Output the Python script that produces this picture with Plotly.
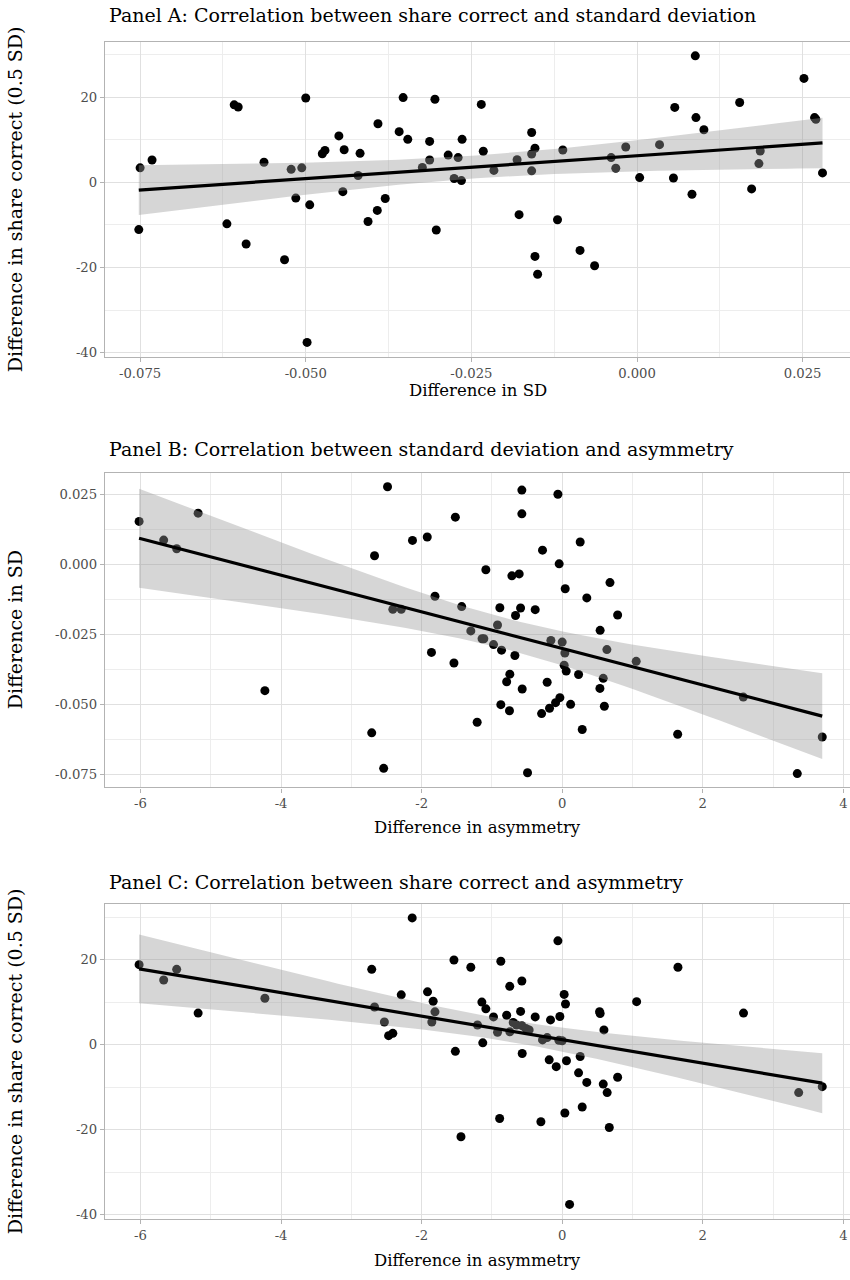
import numpy as np
import plotly.graph_objects as go

# ---------------- data ----------------
# Panel A: x = difference in SD, y = difference in share correct
a_sd = [-0.0750, -0.0732, -0.0752, -0.0608, -0.0602, -0.0500, -0.0563, -0.0522, -0.0506, -0.0515,
        -0.0494, -0.0619, -0.0590, -0.0532, -0.0498, -0.0450, -0.0475, -0.0471, -0.0442, -0.0444,
        -0.0418, -0.0421,
        -0.0406, -0.0392, -0.0380, -0.0391, -0.0353, -0.0359, -0.0346, -0.0324, -0.0313, -0.0313,
        -0.0305, -0.0303, -0.0285, -0.0270, -0.0264, -0.0276, -0.0265, -0.0235, -0.0232, -0.0216,
        -0.0181, -0.0178, -0.0159, -0.0154, -0.0159, -0.0159, -0.0154, -0.0150, -0.0120, -0.0112,
        -0.0086, -0.0064,
        -0.0039, -0.0032, -0.0017, 0.0004, 0.0034, 0.0055, 0.0057, 0.0088, 0.0089, 0.0101,
        0.0083, 0.0155, 0.0173, 0.0186, 0.0184, 0.0252, 0.0268, 0.0270, 0.0280]
a_share = [3.4, 5.25, -11.1, 18.2, 17.7, 19.8, 4.7, 3.05, 3.4, -3.7,
           -5.3, -9.75, -14.5, -18.2, -37.6, 10.9, 6.7, 7.5, 7.65, -2.2,
           6.8, 1.6,
           -9.2, -6.6, -3.8, 13.75, 19.9, 11.9, 10.1, 3.5, 9.6, 5.25,
           19.5, -11.2, 6.4, 5.8, 10.1, 0.9, 0.4, 18.3, 7.3, 2.8,
           5.3, -7.6, 11.7, 8.0, 6.65, 2.7, -17.4, -21.6, -8.8, 7.6,
           -16.0, -19.6,
           5.8, 3.3, 8.3, 1.1, 8.85, 1.0, 17.6, 29.7, 15.2, 12.35,
           -2.8, 18.75, -1.55, 7.35, 4.4, 24.4, 15.2, 14.8, 2.2]

# Panel B: x = difference in asymmetry, y = difference in SD
b_asym = [-6.02, -5.67, -5.485, -5.18, -4.23,
          -2.485, -2.67, -2.71, -2.54, -2.41, -2.29, -2.13, -1.92, -1.81, -1.86,
          -1.52, -1.54, -1.43, -1.30, -1.21, -1.14, -1.115, -1.086, -0.977, -0.92,
          -0.887, -0.863, -0.745, -0.79, -0.873, -0.75, -0.716, -0.612, -0.664, -0.592,
          -0.673, -0.574, -0.574, -0.569, -0.493, -0.384, -0.28, -0.293, -0.18, -0.094,
          -0.033, -0.214, -0.161, -0.061, -0.043, 0.0, 0.043, 0.038, 0.028, 0.057,
          0.12, 0.233, 0.256, 0.285, 0.35, 0.54, 0.537, 0.60, 0.584, 0.636, 0.68,
          0.789, 1.053, 1.643, 2.577, 3.345, 3.70]
b_sd = [0.0155, 0.0088, 0.0057, 0.01845, -0.0451,
        0.0279, 0.0032, -0.0602, -0.0729, -0.0160, -0.0160, 0.0087, 0.0099, -0.0113, -0.0314,
        0.0170, -0.0352, -0.0150, -0.0237, -0.0564, -0.0265, -0.0265, -0.0018, -0.0286, -0.0216,
        -0.0154, -0.0306, -0.0392, -0.0419, -0.0501, -0.0523, -0.0040, -0.0033, -0.0182, -0.0155,
        -0.0325, 0.0267, 0.0182, -0.0445, -0.0745, -0.0161, 0.0052, -0.0533, -0.0514, -0.0494,
        -0.0476, -0.0421, -0.0271, 0.0252, 0.0003, -0.0277, -0.0086, -0.0316, -0.0360, -0.0381,
        -0.0500, -0.0393, 0.0081, -0.0590, -0.0119, -0.0235, -0.0443, -0.0507, -0.0407, -0.0304, -0.0064,
        -0.0180, -0.0346, -0.0607, -0.0474, -0.0748, -0.0617]

# Panel C: x = difference in asymmetry, y = difference in share correct
c_asym = [-6.02, -5.67, -5.485, -5.18, -4.23,
          -2.134, -2.71, -2.67, -2.53, -2.47, -2.41, -2.29, -1.916, -1.836, -1.81,
          -1.855, -1.54, -1.52, -1.44, -1.30, -1.205, -1.143, -1.086, -1.13, -0.977,
          -0.92, -0.89, -0.873, -0.79, -0.746, -0.745, -0.697, -0.65, -0.574, -0.517,
          -0.47, -0.592, -0.574, -0.569, -0.384, -0.303, -0.28, -0.214, -0.185, -0.166,
          -0.085, -0.061, -0.033, -0.047, 0.0, 0.028, 0.047, 0.061, 0.038, 0.105,
          0.233, 0.256, 0.285, 0.35, 0.532, 0.54, 0.594, 0.584, 0.64, 0.67,
          1.059, 0.789, 1.647, 2.58, 3.365, 3.70]
c_share = [18.8, 15.2, 17.7, 7.4, 10.9,
           29.8, 17.7, 8.85, 5.3, 2.1, 2.65, 11.7, 12.4, 10.2, 7.7,
           5.3, 19.9, -1.6, -21.7, 18.2, 4.6, 10.0, 8.4, 0.4, 6.5,
           2.9, -17.4, 19.6, 6.9, 13.7, 3.0, 5.2, 4.6, 4.45, 3.8,
           3.45, 7.8, 14.95, -2.1, 6.5, -18.15, 1.1, 1.65, -3.6, 5.8,
           -5.2, 24.4, 6.6, 1.0, 0.9, 11.8, 9.55, -3.8, -16.1, -37.6,
           -6.65, -2.8, -14.7, -8.9, 7.75, 7.3, 3.45, -9.3, -11.3, -19.5,
           10.1, -7.7, 18.2, 7.4, -11.3, -9.9]

# tick values / labels
sd_ticks = [-0.075, -0.050, -0.025, 0.000, 0.025]
sd_labels = ["-0.075", "-0.050", "-0.025", "0.000", "0.025"]
share_ticks = [-40, -20, 0, 20]
share_labels = ["-40", "-20", "0", "20"]
asym_ticks = [-6, -4, -2, 0, 2, 4]
asym_labels = ["-6", "-4", "-2", "0", "2", "4"]

panel_titles = ["Panel A: Correlation between share correct and standard deviation",
                "Panel B: Correlation between standard deviation and asymmetry",
                "Panel C: Correlation between share correct and asymmetry"]
x_titles = ["Difference in SD", "Difference in asymmetry", "Difference in asymmetry"]
y_titles = ["Difference in share correct (0.5 SD)", "Difference in SD",
            "Difference in share correct (0.5 SD)"]

# ---------------- helpers ----------------
T_CRIT = 1.994  # 95% t quantile, df ~ 70


def lm_fit(x, y, n=80):
    x = np.asarray(x, float)
    y = np.asarray(y, float)
    slope, icpt = np.polyfit(x, y, 1)
    xs = np.linspace(x.min(), x.max(), n)
    fit = icpt + slope * xs
    resid = y - (icpt + slope * x)
    s = np.sqrt(np.sum(resid ** 2) / (len(x) - 2))
    sxx = np.sum((x - x.mean()) ** 2)
    se = s * np.sqrt(1.0 / len(x) + (xs - x.mean()) ** 2 / sxx)
    return xs, fit, fit - T_CRIT * se, fit + T_CRIT * se


FONT = "DejaVu Serif"
H = 1280.0
W_PLOT = 745.0
L_MARGIN = 105.0

fig = go.Figure()

panels = [
    (a_sd, a_share, "x", "y"),
    (b_asym, b_sd, "x2", "y2"),
    (c_asym, c_share, "x3", "y3"),
]

for xv, yv, xa, ya in panels:
    fig.add_trace(go.Scatter(x=xv, y=yv, mode="markers", xaxis=xa, yaxis=ya,
                             marker=dict(color="black", size=9, line=dict(width=0)),
                             showlegend=False, hoverinfo="x+y"))
    xs, fit, lo, hi = lm_fit(xv, yv)
    fig.add_trace(go.Scatter(x=xs, y=lo, mode="lines", xaxis=xa, yaxis=ya,
                             line=dict(width=0, color="rgba(0,0,0,0)"),
                             showlegend=False, hoverinfo="skip"))
    fig.add_trace(go.Scatter(x=xs, y=hi, mode="lines", xaxis=xa, yaxis=ya,
                             fill="tonexty", fillcolor="rgba(153,153,153,0.4)",
                             line=dict(width=0, color="rgba(0,0,0,0)"),
                             showlegend=False, hoverinfo="skip"))
    fig.add_trace(go.Scatter(x=xs, y=fit, mode="lines", xaxis=xa, yaxis=ya,
                             line=dict(color="black", width=3.2),
                             showlegend=False, hoverinfo="skip"))

# plot areas in pixels (top, bottom)
areas = [(41.7, 357.7), (474.0, 789.3), (905.7, 1221.7)]
domains = [[1 - b / H, 1 - t / H] for t, b in areas]

grid_major = "#E0E0E0"
grid_minor = "#EDEDED"
border = "#B3B3B3"
tick_font = dict(family=FONT, size=13.2, color="#4D4D4D")


def xaxis_cfg(anchor, rng, tv, tt, minor_d, minor_0):
    return dict(domain=[0, 1], anchor=anchor, range=rng, tickmode="array",
                tickvals=tv, ticktext=tt, showgrid=True, gridcolor=grid_major, gridwidth=1.2,
                minor=dict(tickmode="linear", tick0=minor_0, dtick=minor_d, showgrid=True,
                           gridcolor=grid_minor, gridwidth=0.9, ticks=""),
                showline=True, linecolor=border, linewidth=1.4, mirror=True,
                ticks="outside", ticklen=4, tickcolor=border, tickwidth=1,
                tickfont=tick_font, zeroline=False)


def yaxis_cfg(anchor, dom, rng, tv, tt, minor_d, minor_0):
    return dict(domain=dom, anchor=anchor, range=rng, tickmode="array",
                tickvals=tv, ticktext=tt, showgrid=True, gridcolor=grid_major, gridwidth=1.2,
                minor=dict(tickmode="linear", tick0=minor_0, dtick=minor_d, showgrid=True,
                           gridcolor=grid_minor, gridwidth=0.9, ticks=""),
                showline=True, linecolor=border, linewidth=1.4, mirror=False,
                ticks="outside", ticklen=4, tickcolor=border, tickwidth=1,
                tickfont=tick_font, zeroline=False)


layout = dict(
    width=850, height=1280,
    margin=dict(l=L_MARGIN, r=0, t=0, b=0),
    paper_bgcolor="white", plot_bgcolor="white",
    font=dict(family=FONT, color="black"),
    xaxis=xaxis_cfg("y", [-0.0803, 0.03215], sd_ticks, sd_labels, 0.0125, -0.075),
    yaxis=yaxis_cfg("x", domains[0], [-41.0, 33.05], share_ticks, share_labels, 10, -40),
    xaxis2=xaxis_cfg("y2", [-6.505, 4.095], asym_ticks, asym_labels, 1, -6),
    yaxis2=yaxis_cfg("x2", domains[1], [-0.07975, 0.03286], sd_ticks, sd_labels, 0.0125, -0.075),
    xaxis3=xaxis_cfg("y3", [-6.505, 4.095], asym_ticks, asym_labels, 1, -6),
    yaxis3=yaxis_cfg("x3", domains[2], [-41.0, 33.17], share_ticks, share_labels, 10, -40),
)
fig.update_layout(**layout)

ann = []
title_y = [15, 450, 884]
xtitle_y = [391, 829, 1263]
for i in range(3):
    t, b = areas[i]
    ann.append(dict(text=panel_titles[i], xref="paper", yref="paper",
                    x=(107 - L_MARGIN) / W_PLOT, y=1 - title_y[i] / H,
                    xanchor="left", yanchor="middle", showarrow=False,
                    font=dict(family=FONT, size=19, color="black")))
    ann.append(dict(text=x_titles[i], xref="paper", yref="paper",
                    x=0.5, y=1 - xtitle_y[i] / H,
                    xanchor="center", yanchor="middle", showarrow=False,
                    font=dict(family=FONT, size=16.5, color="black")))
    ann.append(dict(text=y_titles[i], xref="paper", yref="paper",
                    x=(15 - L_MARGIN) / W_PLOT, y=1 - (t + b) / 2 / H,
                    xanchor="center", yanchor="middle", textangle=-90, showarrow=False,
                    font=dict(family=FONT, size=19, color="black")))
fig.update_layout(annotations=ann)

fig.write_html("out.html")
